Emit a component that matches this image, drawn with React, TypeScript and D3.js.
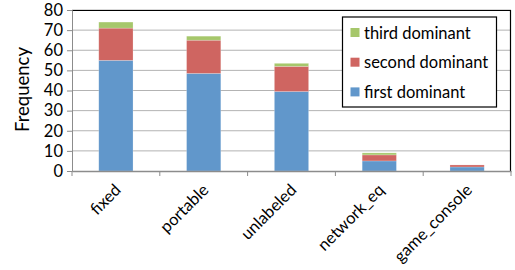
import React, { useEffect, useRef } from "react"
import * as d3 from "d3"

const categories = ["fixed", "portable", "unlabeled", "network_eq", "game_console"]
const firstDominant = [55, 48.5, 39.5, 5, 2]
const secondDominant = [16, 16.5, 12.5, 3, 1]
const thirdDominant = [3, 2, 1.5, 1, 0]
const seriesNames = ["first dominant", "second dominant", "third dominant"]
const yTicks = [0, 10, 20, 30, 40, 50, 60, 70, 80]

const colors = ["#6197cb", "#cf6561", "#a6c76b"]
const font = "Lato, 'Open Sans', sans-serif"

const App = () => {
    const ref = useRef<SVGSVGElement>(null)

    useEffect(() => {
        const svg = d3.select(ref.current)
        svg.selectAll("*").remove()
        const width = 515
        const height = 270
        const padding = { top: 10, right: 4, bottom: 99, left: 72 }
        const innerW = width - padding.left - padding.right
        const innerH = height - padding.top - padding.bottom

        const rows = categories.map((c, i) => ({
            cat: c,
            first: firstDominant[i],
            second: secondDominant[i],
            third: thirdDominant[i],
        }))
        const stack = d3.stack<any>().keys(["first", "second", "third"])
        const layers = stack(rows)

        const xScale = d3.scaleBand().domain(categories).range([0, innerW]).paddingInner(0).paddingOuter(0)
        const yScale = d3.scaleLinear().domain([0, 80]).range([innerH, 0])
        const barW = xScale.bandwidth() * 0.39

        const g = svg.append("g").attr("transform", `translate(${padding.left},${padding.top})`)

        // gridlines
        g.selectAll(".grid")
            .data(yTicks.slice(1))
            .enter()
            .append("line")
            .attr("x1", 0)
            .attr("x2", innerW)
            .attr("y1", d => yScale(d))
            .attr("y2", d => yScale(d))
            .attr("stroke", "#b3b3b3")
            .attr("stroke-width", 1)

        // bars
        layers.forEach((layer, li) => {
            g.selectAll(".bar" + li)
                .data(layer)
                .enter()
                .append("rect")
                .attr("x", (d: any) => xScale(d.data.cat)! + (xScale.bandwidth() - barW) / 2)
                .attr("y", (d: any) => yScale(d[1]))
                .attr("width", barW)
                .attr("height", (d: any) => yScale(d[0]) - yScale(d[1]))
                .attr("fill", colors[li])
                .attr("stroke", "#ffffff")
                .attr("stroke-opacity", 0.35)
                .attr("stroke-width", 0.6)
        })

        // plot border top/right
        g.append("path")
            .attr("d", `M0,0.5H${innerW - 0.5}V${innerH}`)
            .attr("fill", "none")
            .attr("stroke", "#000")
            .attr("stroke-width", 1.2)

        // y axis
        const yAxis = d3.axisLeft(yScale).tickValues(yTicks).tickSize(5).tickPadding(4)
        const ya = g.append("g").call(yAxis)
        ya.select(".domain").attr("stroke", "#8c8c8c")
        ya.selectAll(".tick line").attr("stroke", "#8c8c8c")
        ya.selectAll("text").attr("font-family", font).attr("font-size", 16.5).attr("fill", "#000")

        // x axis
        const xAxis = d3.axisBottom(xScale).tickValues([]).tickSizeOuter(0)
        const xa = g.append("g").attr("transform", `translate(0,${innerH})`).call(xAxis)
        xa.select(".domain").attr("stroke", "#8c8c8c").attr("stroke-width", 1.5)
        const bounds = d3.range(categories.length + 1).map(i => i * xScale.step())
        xa.selectAll(".bt")
            .data(bounds)
            .enter()
            .append("line")
            .attr("x1", d => d)
            .attr("x2", d => d)
            .attr("y1", 0)
            .attr("y2", 5)
            .attr("stroke", "#8c8c8c")

        xa.selectAll(".lbl")
            .data(categories)
            .enter()
            .append("text")
            .attr("transform", d => `translate(${xScale(d)! + xScale.bandwidth() / 2 + 6},${20}) rotate(-45)`)
            .attr("text-anchor", "end")
            .attr("font-family", font)
            .attr("font-size", 16.5)
            .attr("fill", "#000")
            .text(d => d)

        // y label
        svg.append("text")
            .attr("transform", `translate(29,${padding.top + innerH / 2 - 1}) rotate(-90)`)
            .attr("text-anchor", "middle")
            .attr("font-family", font)
            .attr("font-size", 18.5)
            .attr("fill", "#000")
            .text("Frequency")

        // legend
        const lg = svg.append("g").attr("transform", "translate(342.5,17)")
        lg.append("rect")
            .attr("width", 154)
            .attr("height", 90)
            .attr("fill", "#fff")
            .attr("stroke", "#000")
            .attr("stroke-width", 1.2)
        const legendOrder = [2, 1, 0]
        legendOrder.forEach((si, i) => {
            const y = 16 + i * 29.7
            lg.append("rect")
                .attr("x", 8)
                .attr("y", y - 5)
                .attr("width", 9)
                .attr("height", 9)
                .attr("fill", colors[si])
            lg.append("text")
                .attr("x", 21.5)
                .attr("y", y)
                .attr("dy", "0.35em")
                .attr("font-family", font)
                .attr("font-size", 16.5)
                .attr("fill", "#000")
                .text(seriesNames[si])
        })
    }, [])

    return <svg ref={ref} width={515} height={270} style={{ position: "absolute", left: 0, top: 0 }}></svg>
}

export default App
